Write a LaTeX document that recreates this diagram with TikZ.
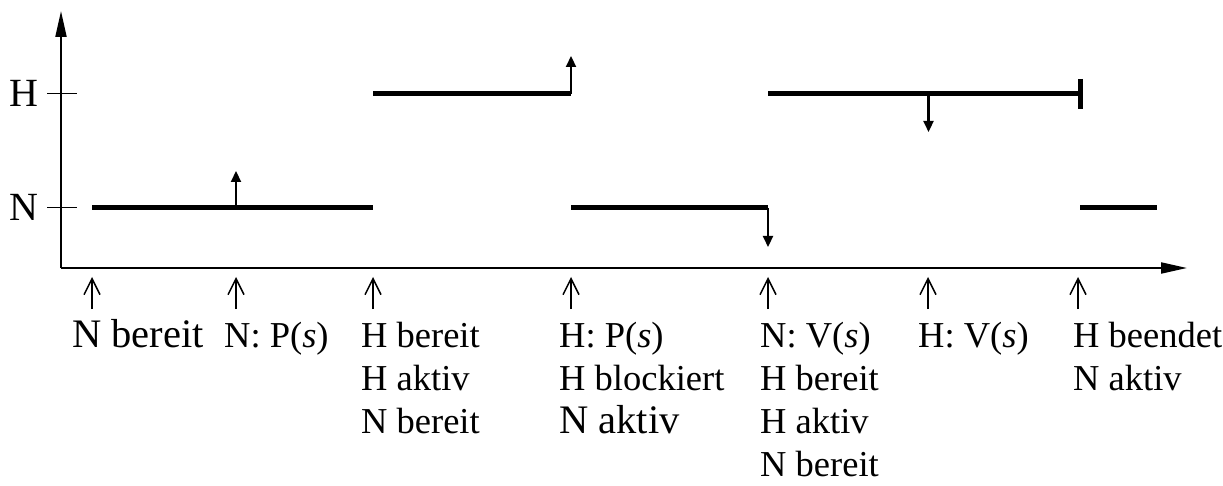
\documentclass[tikz,border=0pt]{standalone}
\usepackage{fontspec}
\setmainfont{Liberation Serif}
\newfontfamily\lblfont{Liberation Serif}
\usetikzlibrary{arrows.meta}
\tikzset{
  axis/.style={line width=2pt,-{Triangle[length=26pt,width=11pt]}},
  tickmark/.style={line width=1pt},
  level/.style={line width=5pt},
  evarrow/.style={line width=2.2pt,-{Triangle[length=11pt,width=10pt]}},
  timearrow/.style={line width=1.5pt,-{Straight Barb[length=16pt,width=16pt,line width=1.5pt]}},
  lbl/.style={anchor=base west,inner sep=0pt,font=\lblfont\fontsize{36.5}{40}\selectfont},
  biglbl/.style={anchor=base west,inner sep=0pt,font=\lblfont\fontsize{40.5}{44}\selectfont},
  axlbl/.style={anchor=base,inner sep=0pt,font=\fontsize{40}{44}\selectfont},
}
\begin{document}
\begin{tikzpicture}[x=1pt,y=-1pt]
\useasboundingbox (0,0) rectangle (1223,486);
% axes
\coordinate (O) at (61,268);
\coordinate (ytip) at (61,11);
\coordinate (xtip) at (1187,268);
\draw[axis] (O) -- (ytip);
\draw[axis] (O) -- (xtip);
% ticks and axis labels
\draw[tickmark] (47,94) -- (77,94);
\draw[tickmark] (47,208) -- (77,208);
\node[axlbl] (lH) at (24,107) {H};
\node[axlbl] (lN) at (24,221) {N};
% level lines
\draw[level] (92,208) -- (373,208);
\draw[level] (373,94) -- (571,94);
\draw[level] (571,208) -- (768,208);
\draw[level] (768,94) -- (1080,94);
\draw[level] (1080,208) -- (1157,208);
\draw[line width=5pt] (1080,79) -- (1080,109);
% event arrows
\draw[evarrow] (236,208) -- (236,171);
\draw[evarrow] (571,94) -- (571,56);
\draw[evarrow] (768,208) -- (768,247);
\draw[evarrow] (928.5,94) -- (928.5,132);
% time arrows
\foreach \x/\n in {92/a,236/b,373/c,571/d,768/e,928/f,1078/g}{
  \coordinate (t\n) at (\x,309);
  \coordinate (u\n) at (\x,277);
  \draw[timearrow] (t\n) -- (u\n);
}
% labels
\node[biglbl] (a1) at (72,347) {N bereit};
\node[lbl] (b1) at (224,347) {N: P(\textit{s})};
\node[lbl] (c1) at (361,347) {H bereit};
\node[lbl] (c2) at (361,390) {H aktiv};
\node[lbl] (c3) at (361,433) {N bereit};
\node[lbl] (d1) at (559,347) {H: P(\textit{s})};
\node[lbl] (d2) at (559,390) {H blockiert};
\node[biglbl] (d3) at (559,433) {N aktiv};
\node[lbl] (e1) at (760,347) {N: V(\textit{s})};
\node[lbl] (e2) at (760,390) {H bereit};
\node[lbl] (e3) at (760,433) {H aktiv};
\node[lbl] (e4) at (760,476) {N bereit};
\node[lbl] (f1) at (918,347) {H: V(\textit{s})};
\node[lbl] (g1) at (1073,347) {H beendet};
\node[lbl] (g2) at (1073,390) {N aktiv};
\end{tikzpicture}
\end{document}
